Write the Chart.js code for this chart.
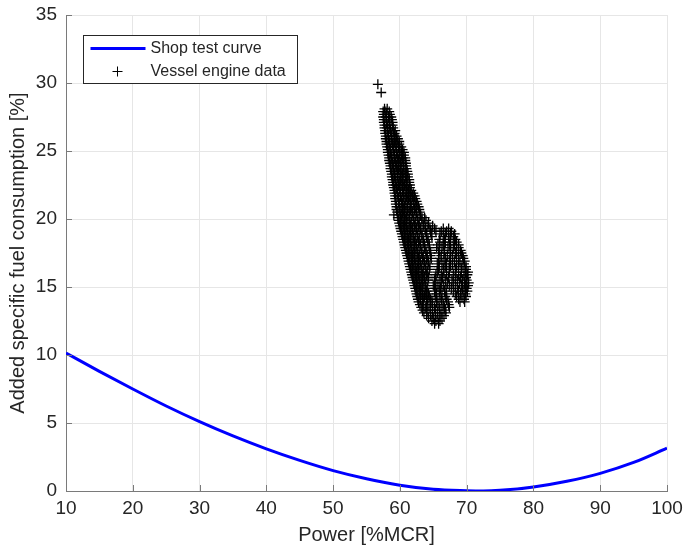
<!DOCTYPE html>
<html>
<head>
<meta charset="utf-8">
<script src="https://cdn.jsdelivr.net/npm/chart.js@4.4.1/dist/chart.umd.min.js"></script>
<style>
  html, body { margin: 0; padding: 0; background: #fff; }
  #wrap { width: 684px; height: 546px; }
</style>
</head>
<body>
<div id="wrap"><canvas id="myChart"></canvas></div>
<script>
const curvePower = [10, 15, 20, 25, 30, 35, 40, 45, 50, 55, 60, 65, 70, 72.5, 75, 80, 85, 90, 95, 100];
const curveSfc = [10.15, 8.8, 7.5, 6.25, 5.1, 4.05, 3.1, 2.25, 1.5, 0.9, 0.42, 0.12, 0.02, 0.0, 0.05, 0.3, 0.72, 1.3, 2.1, 3.15];

// vessel data, one row per sfc level, power values on that row
const vesselSfc = [29.9, 29.3,
    28.1, 27.9, 27.7, 27.5, 27.3, 27.1, 26.9, 26.7, 26.5, 26.3, 26.1, 25.9, 25.7, 25.5, 25.3, 25.1,
    24.9, 24.7, 24.5, 24.3, 24.1, 23.9, 23.7, 23.5, 23.3, 23.1, 22.9, 22.7, 22.5, 22.3, 22.1,
    21.9, 21.7, 21.5, 21.3, 21.1, 20.9, 20.7, 20.5, 20.3, 20.1, 19.9, 19.7, 19.5, 19.3, 19.1,
    18.9, 18.7, 18.5, 18.3, 18.1, 17.9, 17.7, 17.5, 17.3, 17.1, 16.9, 16.7, 16.5, 16.3, 16.1,
    15.9, 15.7, 15.5, 15.3, 15.1, 14.9, 14.7, 14.5, 14.3, 14.1, 13.9, 13.7, 13.5, 13.3, 13.1,
    12.9, 12.7, 12.5, 12.3];
const vesselPower = [
    [56.7],
    [57.2],
    [57.7, 58.1],
    [57.5, 57.9, 58.4],
    [57.6, 58.0, 58.5],
    [57.5, 57.9, 58.3, 58.7],
    [57.6, 58.0, 58.4, 58.8],
    [57.6, 58.0, 58.4, 58.9],
    [57.7, 58.1, 58.5, 58.9],
    [57.7, 58.1, 58.5, 59.0],
    [57.8, 58.2, 58.6, 59.0, 59.3],
    [57.8, 58.2, 58.7, 59.2],
    [57.9, 58.3, 58.7, 59.1, 59.5],
    [57.9, 58.3, 58.8, 59.3, 59.7],
    [58.0, 58.4, 58.8, 59.2, 59.6, 59.9],
    [58.0, 58.4, 58.9, 59.4, 59.9],
    [58.1, 58.5, 59.0, 59.4, 59.8, 60.2],
    [58.2, 58.6, 59.0, 59.5, 60.0, 60.4],
    [58.2, 58.6, 59.1, 59.5, 59.9, 60.3, 60.6],
    [58.3, 58.7, 59.2, 59.7, 60.2, 60.6],
    [58.4, 58.8, 59.2, 59.6, 60.0, 60.4, 60.8],
    [58.4, 58.8, 59.3, 59.8, 60.3, 60.8],
    [58.5, 58.9, 59.3, 59.7, 60.1, 60.5, 60.9],
    [58.6, 59.0, 59.5, 60.0, 60.5, 60.9],
    [58.6, 59.0, 59.4, 59.8, 60.2, 60.6, 61.0],
    [58.7, 59.1, 59.6, 60.1, 60.6, 61.1],
    [58.8, 59.2, 59.6, 60.0, 60.4, 60.8, 61.2],
    [58.8, 59.2, 59.7, 60.2, 60.8, 61.2],
    [58.9, 59.3, 59.7, 60.1, 60.5, 61.0, 61.4],
    [59.0, 59.4, 59.9, 60.4, 60.9, 61.4],
    [59.0, 59.4, 59.8, 60.2, 60.7, 61.1, 61.5],
    [59.1, 59.5, 60.0, 60.5, 61.0, 61.5],
    [59.2, 59.6, 60.0, 60.4, 60.8, 61.3, 61.7],
    [59.2, 59.6, 60.1, 60.6, 61.1, 61.6, 62.0],
    [59.3, 59.7, 60.1, 60.5, 61.0, 61.4, 61.9, 62.2],
    [59.3, 59.8, 60.3, 60.8, 61.3, 61.8, 62.3],
    [59.4, 59.8, 60.2, 60.6, 61.1, 61.6, 62.1, 62.5],
    [59.4, 59.9, 60.4, 60.9, 61.5, 62.0, 62.6],
    [59.5, 59.9, 60.3, 60.7, 61.2, 61.7, 62.3, 62.8],
    [59.5, 60.0, 60.5, 61.1, 61.6, 62.2, 62.9],
    [59.6, 60.0, 60.4, 60.9, 61.4, 61.9, 62.5, 63.0],
    [59.1, 59.7, 60.2, 60.7, 61.2, 61.8, 62.4, 63.1],
    [59.7, 60.1, 60.5, 61.0, 61.5, 62.1, 62.7, 63.3, 63.7],
    [59.8, 60.3, 60.8, 61.4, 62.0, 62.6, 63.3, 63.9],
    [59.9, 60.3, 60.7, 61.2, 61.7, 62.3, 62.9, 63.6, 64.3],
    [60.0, 60.5, 61.0, 61.6, 62.2, 62.8, 63.5, 64.2, 64.9],
    [60.1, 60.5, 60.9, 61.4, 61.9, 62.5, 63.1, 63.8, 64.5, 65.2, 66.5, 67.3],
    [60.2, 60.7, 61.2, 61.8, 62.4, 63.0, 63.8, 64.6, 65.4, 66.2, 67.0, 67.7],
    [60.3, 60.7, 61.1, 61.6, 62.1, 62.7, 63.3, 64.0, 64.7, 66.0, 66.8, 67.6, 68.2],
    [60.4, 60.9, 61.4, 62.0, 62.6, 63.3, 64.0, 64.8, 66.5, 67.3, 68.0],
    [60.5, 60.9, 61.3, 61.8, 62.3, 62.9, 63.5, 64.2, 65.9, 66.7, 67.5, 68.3],
    [60.6, 61.1, 61.6, 62.2, 62.8, 63.5, 64.2, 66.0, 66.8, 67.6, 68.5],
    [60.7, 61.1, 61.5, 62.0, 62.5, 63.1, 63.7, 64.4, 65.7, 66.5, 67.4, 68.2, 68.8],
    [60.8, 61.3, 61.8, 62.4, 63.0, 63.7, 64.4, 65.5, 66.3, 67.2, 68.0, 68.8],
    [60.9, 61.3, 61.7, 62.2, 62.7, 63.3, 63.9, 64.5, 65.9, 66.7, 67.6, 68.5, 69.1],
    [61.0, 61.5, 62.0, 62.6, 63.2, 63.9, 64.6, 65.8, 66.6, 67.5, 68.3, 69.2],
    [61.1, 61.5, 61.9, 62.4, 62.9, 63.5, 64.1, 64.6, 66.2, 67.1, 67.9, 68.8, 69.4],
    [61.2, 61.7, 62.2, 62.8, 63.4, 64.0, 64.7, 66.0, 66.8, 67.6, 68.5, 69.5],
    [61.3, 61.7, 62.1, 62.6, 63.1, 63.7, 64.3, 65.8, 66.6, 67.4, 68.2, 69.0, 69.7],
    [61.4, 61.9, 62.4, 63.0, 63.6, 64.2, 65.6, 66.3, 67.0, 67.9, 68.8, 69.6],
    [61.5, 61.9, 62.3, 62.8, 63.3, 63.9, 64.5, 65.9, 66.8, 67.6, 68.5, 69.3, 69.9],
    [61.6, 62.1, 62.6, 63.2, 63.8, 64.4, 65.8, 66.5, 67.4, 68.3, 69.2, 69.9],
    [61.7, 62.1, 62.5, 63.0, 63.5, 64.1, 65.6, 66.6, 67.4, 68.4, 69.2, 69.8, 70.2],
    [61.8, 62.3, 62.8, 63.4, 64.0, 65.4, 66.2, 67.0, 68.0, 68.8, 69.6, 70.1],
    [61.9, 62.3, 62.7, 63.2, 63.7, 64.3, 65.3, 66.4, 67.3, 68.3, 69.1, 69.9],
    [62.0, 62.5, 63.0, 63.6, 64.2, 65.2, 66.0, 66.8, 67.8, 68.6, 69.4, 70.0],
    [62.1, 62.5, 62.9, 63.4, 63.9, 65.4, 66.2, 67.1, 68.0, 68.9, 69.7, 70.3],
    [62.2, 62.7, 63.2, 63.8, 65.0, 65.7, 66.5, 67.4, 68.3, 69.2, 69.8, 70.2],
    [62.3, 62.7, 63.1, 63.6, 64.1, 65.3, 66.1, 66.9, 67.7, 68.6, 69.4, 70.0],
    [62.4, 62.9, 63.4, 64.0, 65.2, 65.9, 66.7, 68.0, 68.8, 69.6, 70.1],
    [62.5, 62.9, 63.3, 63.8, 64.3, 65.5, 66.3, 67.0, 68.3, 69.1, 69.8],
    [62.6, 63.1, 63.7, 64.4, 65.3, 66.0, 66.8, 68.5, 69.3, 69.9],
    [62.7, 63.1, 63.5, 64.1, 64.6, 65.5, 66.2, 67.0, 68.8, 69.6],
    [62.8, 63.4, 64.0, 64.8, 65.5, 66.3, 67.2, 69.0, 69.7],
    [63.0, 63.5, 64.2, 64.9, 65.7, 66.5, 67.3],
    [63.2, 63.8, 64.5, 65.2, 65.9, 66.7, 67.4],
    [63.4, 64.0, 64.6, 65.3, 66.0, 66.8],
    [63.6, 64.2, 64.9, 65.6, 66.3, 66.9],
    [64.0, 64.6, 65.3, 66.0, 66.6],
    [64.3, 65.0, 65.7, 66.3],
    [64.8, 65.4, 66.0],
    [65.2, 65.8]
];

const xMin = 10, xMax = 100, xStep = 10;
const yMin = 0, yMax = 35, yStep = 5;

const axisColor = '#7a7a7a';
const textColor = '#262626';
const fontFamily = '"Liberation Sans", Arial, sans-serif';

const curvePoints = curvePower.map((p, i) => ({ x: p, y: curveSfc[i] }));
const vesselPoints = [];
vesselSfc.forEach((s, i) => {
    for (const p of vesselPower[i]) {
        vesselPoints.push({ x: p, y: s });
    }
});

// labels may hang over the plot edges, MATLAB does not shrink the axes for them
const noOverhang = (scale) => {
    scale.paddingTop = 0;
    scale.paddingBottom = 0;
    scale.paddingLeft = 0;
    scale.paddingRight = 0;
};

// MATLAB style ticks pointing into the axes
const innerTicks = {
    id: 'innerTicks',
    afterDraw: (chart) => {
        const ctx = chart.ctx;
        const area = chart.chartArea;
        const xs = chart.scales.x;
        const ys = chart.scales.y;
        ctx.save();
        ctx.strokeStyle = axisColor;
        ctx.lineWidth = 1;
        ctx.beginPath();
        for (const t of xs.ticks) {
            const px = Math.round(xs.getPixelForValue(t.value)) + 0.5;
            ctx.moveTo(px, area.bottom);
            ctx.lineTo(px, area.bottom - 6);
        }
        for (const t of ys.ticks) {
            const py = Math.round(ys.getPixelForValue(t.value)) + 0.5;
            ctx.moveTo(area.left, py);
            ctx.lineTo(area.left + 6, py);
        }
        ctx.stroke();
        ctx.restore();
    }
};

const boxLegend = {
    id: 'boxLegend',
    afterDraw: (chart) => {
        const ctx = chart.ctx;
        const area = chart.chartArea;
        const sets = chart.data.datasets;
        const left = Math.round(area.left) + 17.5;
        const top = Math.round(area.top) + 20.5;
        ctx.save();
        ctx.fillStyle = '#fff';
        ctx.fillRect(left, top, 214, 48);
        ctx.strokeStyle = '#262626';
        ctx.lineWidth = 1;
        ctx.strokeRect(left, top, 214, 48);
        ctx.font = '16px ' + fontFamily;
        ctx.textBaseline = 'middle';
        ctx.fillStyle = textColor;

        let y = top + 13;
        ctx.strokeStyle = sets[0].borderColor;
        ctx.lineWidth = sets[0].borderWidth;
        ctx.beginPath();
        ctx.moveTo(left + 7, y);
        ctx.lineTo(left + 62, y);
        ctx.stroke();
        ctx.fillText(sets[0].label, left + 67, y);

        y = top + 36;
        ctx.strokeStyle = sets[1].borderColor;
        ctx.lineWidth = 1;
        ctx.beginPath();
        ctx.moveTo(left + 29, y);
        ctx.lineTo(left + 39, y);
        ctx.moveTo(left + 34, y - 5);
        ctx.lineTo(left + 34, y + 5);
        ctx.stroke();
        ctx.fillText(sets[1].label, left + 67, y);
        ctx.restore();
    }
};

const ctx = document.getElementById('myChart').getContext('2d');
const myChart = new Chart(ctx, {
    type: 'scatter',
    data: {
        datasets: [{
            label: 'Shop test curve',
            data: curvePoints,
            showLine: true,
            borderColor: '#0000ff',
            borderWidth: 3,
            pointRadius: 0,
            cubicInterpolationMode: 'monotone',
            order: 2
        }, {
            label: 'Vessel engine data',
            data: vesselPoints,
            pointStyle: 'cross',
            pointRadius: 5,
            borderColor: '#000',
            borderWidth: 1.3,
            backgroundColor: '#000',
            showLine: false,
            order: 1
        }]
    },
    options: {
        responsive: true,
        maintainAspectRatio: false,
        animation: false,
        layout: { padding: { top: 15, right: 17, left: 0, bottom: 0 } },
        plugins: {
            legend: { display: false },
            tooltip: { enabled: false }
        },
        scales: {
            x: {
                type: 'linear',
                min: xMin,
                max: xMax,
                afterFit: (scale) => { scale.height = 55; noOverhang(scale); },
                ticks: {
                    stepSize: xStep,
                    padding: 6,
                    color: textColor,
                    font: { family: fontFamily, size: 19 }
                },
                grid: { color: '#e6e6e6', drawTicks: false },
                border: { color: axisColor, width: 1 },
                title: {
                    display: true,
                    text: 'Power [%MCR]',
                    color: textColor,
                    font: { family: fontFamily, size: 20, lineHeight: 1 },
                    padding: { top: 0, bottom: 1 }
                }
            },
            y: {
                type: 'linear',
                min: yMin,
                max: yMax,
                afterFit: (scale) => { scale.width = 66; noOverhang(scale); },
                ticks: {
                    stepSize: yStep,
                    padding: 9,
                    color: textColor,
                    font: { family: fontFamily, size: 19 }
                },
                grid: { color: '#e6e6e6', drawTicks: false },
                border: { color: axisColor, width: 1 },
                title: {
                    display: true,
                    text: 'Added specific fuel consumption [%]',
                    color: textColor,
                    font: { family: fontFamily, size: 20, lineHeight: 1 },
                    padding: { top: 8, bottom: 0 }
                }
            }
        }
    },
    plugins: [innerTicks, boxLegend]
});
</script>
</body>
</html>
